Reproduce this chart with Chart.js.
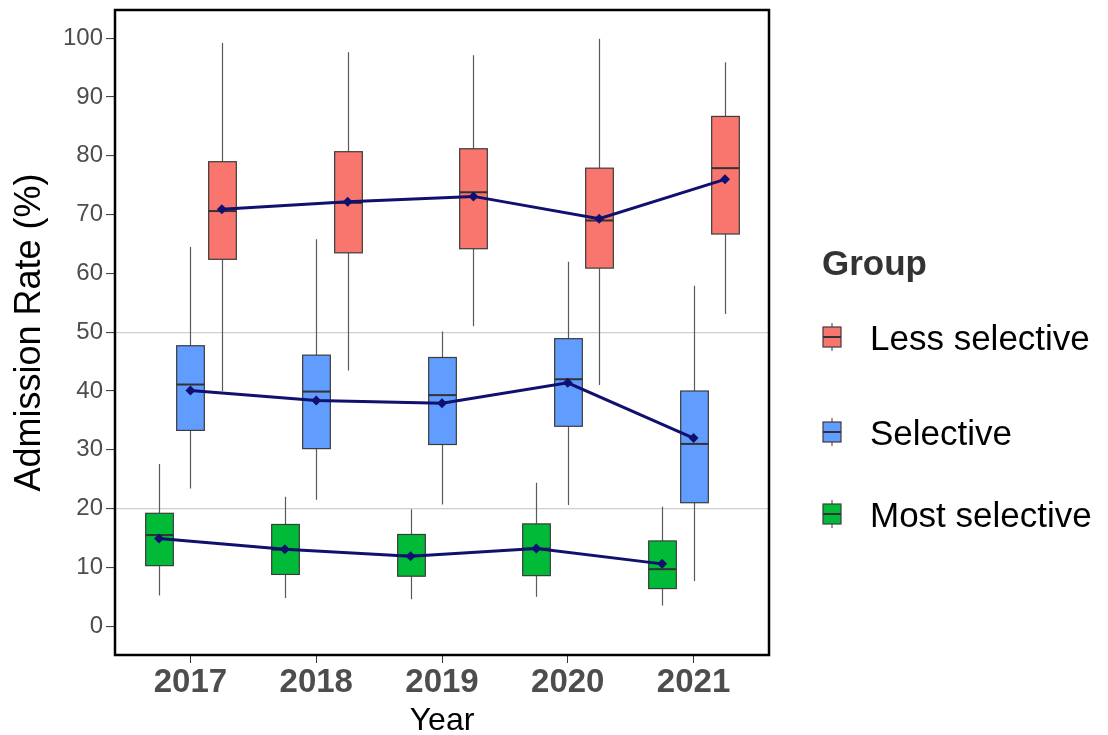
<!DOCTYPE html>
<html lang="en">
<head>
<meta charset="UTF-8">
<title>Admission Rate by Year</title>
<style>
  html, body { margin: 0; padding: 0; background: #fff; }
  #wrap { width: 1108px; height: 735px; }
</style>
<script src="https://cdn.jsdelivr.net/npm/chart.js@4.4.1/dist/chart.umd.min.js"></script>
</head>
<body>
<div id="wrap"><canvas id="chart" width="1108" height="735"></canvas></div>
<script>
// ---- data ----
const years = ['2017', '2018', '2019', '2020', '2021'];
const yTicks = [0, 10, 20, 30, 40, 50, 60, 70, 80, 90, 100];
const refLines = [20, 50];

const lessLow  = [40.0, 43.5, 51.0, 41.0, 53.1];
const lessQ1   = [62.4, 63.5, 64.2, 60.9, 66.7];
const lessMed  = [70.6, 72.0, 73.8, 69.0, 77.9];
const lessQ3   = [79.0, 80.7, 81.2, 77.9, 86.7];
const lessHigh = [99.2, 97.6, 97.1, 99.9, 95.9];
const lessMean = [70.9, 72.2, 73.1, 69.3, 76.0];

const selLow  = [23.4, 21.5, 20.7, 20.6, 7.7];
const selQ1   = [33.3, 30.2, 30.9, 34.0, 21.0];
const selMed  = [41.1, 39.9, 39.3, 42.0, 31.0];
const selQ3   = [47.7, 46.1, 45.7, 48.9, 40.0];
const selHigh = [64.5, 65.8, 50.1, 62.0, 57.9];
const selMean = [40.1, 38.4, 37.9, 41.4, 32.0];

const mostLow  = [5.2, 4.8, 4.6, 5.0, 3.5];
const mostQ1   = [10.3, 8.8, 8.5, 8.6, 6.4];
const mostMed  = [15.5, 13.0, 12.0, 13.2, 9.7];
const mostQ3   = [19.2, 17.3, 15.6, 17.4, 14.5];
const mostHigh = [27.6, 22.0, 19.9, 24.4, 20.3];
const mostMean = [14.9, 13.1, 11.9, 13.2, 10.6];

// ---- styling ----
const FONT = "'Liberation Sans', Arial, Helvetica, sans-serif";
const boxWidth = 0.22;      // in category units
const meanColor = '#10106e';

const groups = [
  { name: 'Less selective', fill: '#F8766D', dodge: 0.25,
    lo: lessLow, q1: lessQ1, med: lessMed, q3: lessQ3, hi: lessHigh, mean: lessMean },
  { name: 'Selective', fill: '#619CFF', dodge: 0,
    lo: selLow, q1: selQ1, med: selMed, q3: selQ3, hi: selHigh, mean: selMean },
  { name: 'Most selective', fill: '#00BA38', dodge: -0.25,
    lo: mostLow, q1: mostQ1, med: mostMed, q3: mostQ3, hi: mostHigh, mean: mostMean }
];

// boxes, whiskers and medians, drawn through the chart scales
const boxPlugin = {
  id: 'boxes',
  beforeDatasetsDraw(chart) {
    const { ctx, scales: { x, y } } = chart;
    const half = (x.getPixelForValue(boxWidth) - x.getPixelForValue(0)) / 2;
    ctx.save();
    groups.forEach(g => {
      g.q1.forEach((q1, i) => {
        const cx = Math.round(x.getPixelForValue(i + g.dodge)) + 0.5;
        const yLo = y.getPixelForValue(g.lo[i]);
        const yQ1 = y.getPixelForValue(q1);
        const yMed = y.getPixelForValue(g.med[i]);
        const yQ3 = y.getPixelForValue(g.q3[i]);
        const yHi = y.getPixelForValue(g.hi[i]);

        ctx.strokeStyle = '#5a5a5a';
        ctx.lineWidth = 1.2;
        ctx.beginPath();
        ctx.moveTo(cx, yHi); ctx.lineTo(cx, yQ3);
        ctx.moveTo(cx, yQ1); ctx.lineTo(cx, yLo);
        ctx.stroke();

        ctx.fillStyle = g.fill;
        ctx.fillRect(cx - half, yQ3, half * 2, yQ1 - yQ3);
        ctx.strokeStyle = '#3c3c3c';
        ctx.lineWidth = 1.2;
        ctx.strokeRect(cx - half, yQ3, half * 2, yQ1 - yQ3);

        ctx.strokeStyle = '#333';
        ctx.lineWidth = 2;
        ctx.beginPath();
        ctx.moveTo(cx - half, yMed); ctx.lineTo(cx + half, yMed);
        ctx.stroke();
      });
    });
    ctx.restore();
  },
  afterDraw(chart) {
    const { ctx, chartArea: a } = chart;
    ctx.save();
    // panel border
    ctx.strokeStyle = '#000';
    ctx.lineWidth = 2.5;
    ctx.strokeRect(a.left, a.top, a.right - a.left, a.bottom - a.top);

    // legend
    ctx.fillStyle = '#333';
    ctx.font = 'bold 35px ' + FONT;
    ctx.textBaseline = 'alphabetic';
    ctx.fillText('Group', 822, 275);

    const keyY = [337, 432, 514];
    const textY = [350, 445, 527];
    groups.forEach((g, k) => {
      const kx = 832, ky = keyY[k];
      ctx.strokeStyle = '#5a5a5a';
      ctx.lineWidth = 1.2;
      ctx.beginPath();
      ctx.moveTo(kx, ky - 14); ctx.lineTo(kx, ky + 14);
      ctx.stroke();
      ctx.fillStyle = g.fill;
      ctx.fillRect(kx - 9, ky - 10, 18, 20);
      ctx.strokeStyle = '#3c3c3c';
      ctx.strokeRect(kx - 9, ky - 10, 18, 20);
      ctx.strokeStyle = '#333';
      ctx.lineWidth = 2;
      ctx.beginPath();
      ctx.moveTo(kx - 9, ky); ctx.lineTo(kx + 9, ky);
      ctx.stroke();

      ctx.fillStyle = '#000';
      ctx.font = '35px ' + FONT;
      ctx.fillText(g.name, 870, textY[k]);
    });
    ctx.restore();
  }
};

const datasets = groups.map(g => ({
  label: g.name,
  data: g.mean.map((m, i) => ({ x: i + g.dodge, y: m })),
  borderColor: meanColor,
  backgroundColor: meanColor,
  borderWidth: 3,
  pointStyle: 'rectRot',
  pointRadius: 5,
  pointBorderWidth: 0,
  tension: 0
}));

new Chart(document.getElementById('chart'), {
  type: 'line',
  data: { datasets },
  plugins: [boxPlugin],
  options: {
    responsive: false,
    animation: false,
    devicePixelRatio: 1,
    layout: { padding: { top: 10, right: 339, left: 0, bottom: 0 } },
    plugins: { legend: { display: false }, tooltip: { enabled: false } },
    scales: {
      x: {
        type: 'linear',
        min: -0.6,
        max: 4.6,
        afterBuildTicks: s => { s.ticks = years.map((_, i) => ({ value: i })); },
        afterFit: s => { s.height = 80; s.paddingLeft = 0; s.paddingRight = 0; },
        border: { display: false },
        grid: { drawOnChartArea: false, drawTicks: true, tickLength: 8, tickColor: '#333', tickWidth: 1 },
        ticks: {
          callback: v => years[v],
          color: '#4d4d4d',
          font: { family: FONT, size: 33, weight: 'bold' },
          padding: 0,
          maxRotation: 0
        },
        title: {
          display: true,
          text: 'Year',
          color: '#000',
          font: { family: FONT, size: 32, lineHeight: 0.85 },
          padding: 0
        }
      },
      y: {
        min: -4.9,
        max: 104.8,
        afterBuildTicks: s => { s.ticks = yTicks.map(v => ({ value: v })); },
        afterFit: s => { s.width = 115; s.paddingTop = 0; s.paddingBottom = 0; },
        border: { display: false },
        grid: {
          color: c => refLines.includes(c.tick && c.tick.value) ? '#cfcfcf' : 'rgba(0,0,0,0)',
          lineWidth: 1.2,
          drawTicks: true,
          tickLength: 9,
          tickColor: '#333',
          tickWidth: 1
        },
        ticks: {
          color: '#4d4d4d',
          font: { family: FONT, size: 24 },
          padding: 3
        },
        title: {
          display: true,
          text: 'Admission Rate (%)',
          color: '#000',
          font: { family: FONT, size: 36 },
          padding: { top: 8, bottom: 0 }
        }
      }
    }
  }
});
</script>
</body>
</html>
